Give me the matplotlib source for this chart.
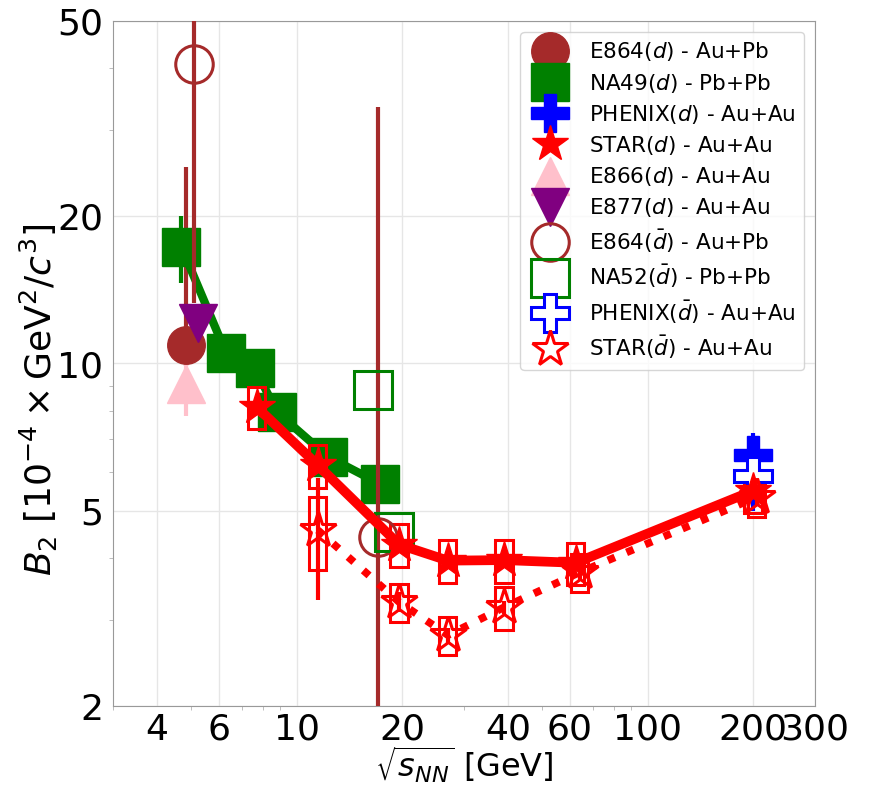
import matplotlib.pyplot as plt
from matplotlib.ticker import NullFormatter, FixedLocator, FixedFormatter
import numpy as np

plt.rcParams['font.family'] = ['DejaVu Sans']
plt.rcParams['mathtext.fontset'] = 'dejavusans'

# ---- data ----
e864_x = [4.85]
e864_y = [10.9]
e864_err = [[1.0], [14.3]]

na49_x = [4.7, 6.3, 7.6, 8.8, 12.3, 17.3]
na49_y = [17.3, 10.5, 9.8, 7.95, 6.45, 5.68]
na49_err = [2.7, 0.3, 0.3, 0.25, 0.2, 0.2]

phenix_x = [200]
phenix_y = [6.5]
phenix_err = [0.7]

star_x = [7.7, 11.5, 19.6, 27, 39, 62.4, 200]
star_y = [8.15, 6.2, 4.27, 3.96, 3.97, 3.92, 5.5]
star_err = [0.15, 0.12, 0.08, 0.06, 0.06, 0.08, 0.1]
star_sys = [0.10, 0.10, 0.10, 0.10, 0.10, 0.10, 0.10]

e866_x = [4.84]
e866_y = [9.1]
e866_err = [1.3]

e877_x = [5.25]
e877_y = [12.1]
e877_err = [1.0]

e864bar_x = [5.1, 17.1]
e864bar_y = [40.8, 4.42]
e864bar_err = [27.5, 29.0]

na52bar_x = [16.5, 18.95]
na52bar_y = [8.84, 4.53]

phenixbar_x = [200]
phenixbar_y = [5.9]
phenixbar_err = [0.9]

starbar_x = [11.5, 19.6, 27, 39, 64.2, 205]
starbar_y = [4.57, 3.26, 2.79, 3.18, 3.75, 5.34]
starbar_err = [1.28, 0.15, 0.1, 0.1, 0.15, 0.2]
starbar_sys = [0.17, 0.09, 0.09, 0.10, 0.09, 0.09]

xticks = [4, 6, 10, 20, 40, 60, 100, 200, 300]
yticks = [2, 5, 10, 20, 50]

fig, ax = plt.subplots(figsize=(8.71, 7.86), dpi=100)
fig.subplots_adjust(left=113/871, right=815/871, top=1-21/786, bottom=1-706/786)
ax.set_xscale('log')
ax.set_yscale('log')

ms = 27
ew = 2.2

# systematic boxes for STAR
for xs, ys, ss in [(star_x, star_y, star_sys), (starbar_x, starbar_y, starbar_sys)]:
    xs = np.array(xs); ys = np.array(ys); ss = np.array(ss)
    ax.bar(xs, 2*ys*ss, bottom=ys*(1-ss), width=xs*0.115, fill=False,
           edgecolor='red', linewidth=2.2, zorder=3)

# error bars
ax.errorbar(e864_x, e864_y, yerr=e864_err, fmt='none', ecolor='brown', elinewidth=3, zorder=2)
ax.errorbar(na49_x, na49_y, yerr=na49_err, fmt='none', ecolor='green', elinewidth=3, zorder=2)
ax.errorbar(phenix_x, phenix_y, yerr=phenix_err, fmt='none', ecolor='blue', elinewidth=3, zorder=2)
ax.errorbar(star_x, star_y, yerr=star_err, fmt='none', ecolor='red', elinewidth=3, zorder=2)
ax.errorbar(e866_x, e866_y, yerr=e866_err, fmt='none', ecolor='pink', elinewidth=3, zorder=2)
ax.errorbar(e877_x, e877_y, yerr=e877_err, fmt='none', ecolor='purple', elinewidth=3, zorder=2)
ax.errorbar(e864bar_x, e864bar_y, yerr=e864bar_err, fmt='none', ecolor='brown', elinewidth=3, zorder=4)
ax.errorbar(phenixbar_x, phenixbar_y, yerr=phenixbar_err, fmt='none', ecolor='blue', elinewidth=3, zorder=2)
ax.errorbar(starbar_x, starbar_y, yerr=starbar_err, fmt='none', ecolor='red', elinewidth=3, zorder=2)

# connecting lines
ax.plot(na49_x, na49_y, '-', color='green', lw=6, zorder=2)
ax.plot(star_x, star_y, '-', color='red', lw=7, zorder=5)
ax.plot(starbar_x, starbar_y, ':', color='red', lw=5.5, zorder=5)

# markers
ax.plot(e864_x, e864_y, 'o', color='brown', ms=ms, ls='none', label='E864($d$) - Au+Pb', zorder=3)
ax.plot(na49_x, na49_y, 's', color='green', ms=ms, ls='none', label='NA49($d$) - Pb+Pb', zorder=2)
ax.plot(phenix_x, phenix_y, 'P', color='blue', ms=ms, ls='none', label='PHENIX($d$) - Au+Au', zorder=4)
ax.plot(star_x, star_y, '*', color='red', ms=ms, ls='none', label='STAR($d$) - Au+Au', zorder=6)
ax.plot(e866_x, e866_y, '^', color='pink', ms=ms, ls='none', label='E866($d$) - Au+Au', zorder=3)
ax.plot(e877_x, e877_y, 'v', color='purple', ms=ms, ls='none', label='E877($d$) - Au+Au', zorder=3)
ax.plot(e864bar_x, e864bar_y, 'o', color='brown', mfc='none', mew=ew, ms=ms, ls='none',
        label=r'E864($\bar{d}$) - Au+Pb', zorder=4)
ax.plot(na52bar_x, na52bar_y, 's', color='green', mfc='none', mew=ew, ms=ms, ls='none',
        label=r'NA52($\bar{d}$) - Pb+Pb', zorder=4)
ax.plot(phenixbar_x, phenixbar_y, 'P', color='blue', mfc='white', mew=ew, ms=ms, ls='none',
        label=r'PHENIX($\bar{d}$) - Au+Au', zorder=4)
ax.plot(starbar_x, starbar_y, '*', color='red', mfc='none', mew=ew, ms=ms, ls='none',
        label=r'STAR($\bar{d}$) - Au+Au', zorder=6)

ax.set_xlim(3, 300)
ax.set_ylim(2, 50)
ax.xaxis.set_major_locator(FixedLocator(xticks))
ax.xaxis.set_major_formatter(FixedFormatter([str(t) for t in xticks]))
ax.yaxis.set_major_locator(FixedLocator(yticks))
ax.yaxis.set_major_formatter(FixedFormatter([str(t) for t in yticks]))
ax.xaxis.set_minor_formatter(NullFormatter())
ax.yaxis.set_minor_formatter(NullFormatter())
ax.tick_params(which='major', labelsize=26, length=0)
ax.tick_params(axis='x', which='major', pad=5)
ax.tick_params(axis='y', which='major', pad=7)
ax.tick_params(which='minor', length=3, color='0.7')
ax.grid(True, which='major', color='0.9', lw=1)
for s in ax.spines.values():
    s.set_color('0.6')

ax.set_xlabel(r'$\sqrt{s_{NN}}$ [GeV]', fontsize=23)
ax.xaxis.set_label_coords(0.5, -0.056)
ax.set_ylabel(r'$B_2$ [$10^{-4}\times\mathrm{GeV}^2/c^3$]', fontsize=26)
ax.yaxis.set_label_coords(-0.075, 0.447)

leg = ax.legend(loc='upper right', numpoints=1, labelspacing=0.38,
                prop={'family': 'DejaVu Sans', 'size': 15.5})

plt.savefig('out.png', dpi=100)
